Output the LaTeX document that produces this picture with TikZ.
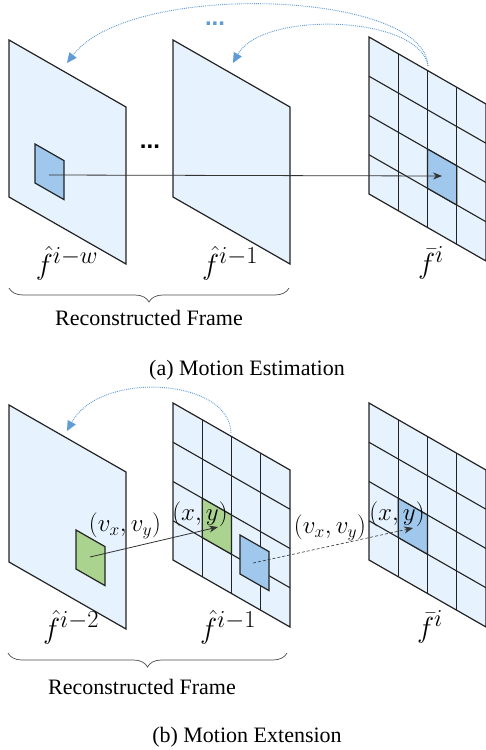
\RequirePackage{fix-cm}
\documentclass[tikz,border=0pt]{standalone}
\usepackage{fontspec}
\usepackage{graphicx}
\setmainfont{Liberation Serif}
\newfontfamily\dotfont{Liberation Sans}
\usetikzlibrary{arrows.meta,decorations.pathreplacing}
\definecolor{ffill}{RGB}{230,242,253}
\definecolor{hblue}{RGB}{160,199,236}
\definecolor{hgreen}{RGB}{169,211,142}
\definecolor{arcblue}{RGB}{95,155,213}
\definecolor{edge}{RGB}{35,35,35}
\newcommand\plainframe[2]{\draw[frm] (#1,#2) -- ++(117,67) -- ++(0,157) -- ++(-117,-67) -- cycle;}
\newcommand\gridframe[2]{\plainframe{#1}{#2}
  \foreach \k in {1,2,3} {
    \draw[gridl] (#1+\k*29.25, #2+\k*16.75) -- ++(0,157);
    \draw[gridl] (#1, #2+\k*39.25) -- ++(117,67);}}
\newcommand\cellfill[5]{\draw[cellst, fill=#5] (#1+#3*29.25, #2+#3*16.75+#4*39.25) -- ++(29.25,16.75) -- ++(0,39.25) -- ++(-29.25,-16.75) -- cycle;}
\newcommand\blockfill[3]{\draw[cellst, fill=#3] (#1,#2) -- ++(29,16.6) -- ++(0,39) -- ++(-29,-16.6) -- cycle;}
\newcommand\bigsup[1]{\scalebox{1.2}{$\scriptstyle #1$}}
\begin{document}
\begin{tikzpicture}[x=1pt,y=-1pt,
  frm/.style={draw=edge, fill=ffill, line width=1.2pt, line join=miter},
  gridl/.style={draw=edge, line width=1.1pt},
  cellst/.style={draw=edge, line width=1.2pt},
  mv/.style={draw=black!80, line width=0.8pt, -{Stealth[length=9pt,width=7pt]}},
  mvd/.style={mv, densely dashed, line width=0.6pt},
  arcst/.style={draw=arcblue, densely dotted, line width=0.9pt, -{Triangle[length=10pt,width=9pt]}},
  mlab/.style={font=\fontsize{29}{34}\selectfont, inner sep=0pt},
  vlab/.style={font=\fontsize{25}{28}\selectfont, inner sep=0pt},
  txt/.style={font=\fontsize{22}{24}\selectfont, inner sep=0pt},
  dotst/.style={font=\dotfont\bfseries\fontsize{24}{24}\selectfont, inner sep=0pt},
  bracest/.style={draw=black!70, line width=0.7pt, decorate, decoration={brace, amplitude=14pt, mirror}}]
\useasboundingbox (0,0) rectangle (485,750);

% ---------- (a) Motion Estimation ----------
\plainframe{9}{40}
\plainframe{173}{40}
\gridframe{369}{37}
\cellfill{369}{37}{2}{2}{hblue}
\blockfill{35}{144}{hblue}

\coordinate (a1) at (49,175);
\coordinate (a2) at (442,176);
\draw[mv] (a1) -- (a2);

\node[dotst] (dots1) at (150,147) {...};
\node[dotst, text=arcblue] (dots2) at (215,24) {...};

\coordinate (s1) at (428,66);
\coordinate (t1) at (67,63);
\coordinate (t2) at (233,63);
\draw[arcst] (s1) .. controls (425,-10) and (130,-20) .. (t1);
\draw[arcst] (s1) .. controls (420,15) and (262,10) .. (t2);

\node[mlab] (la1) at (67,263) {$\hat{f}^{\bigsup{i-w}}$};
\node[mlab] (la2) at (230,263) {$\hat{f}^{\bigsup{i-1}}$};
\node[mlab] (la3) at (431,263) {$\bar{f}^{\bigsup{i}}$};

\coordinate (bra) at (9,288);
\coordinate (brb) at (289,288);
\draw[bracest] (bra) -- (brb);
\node[txt] (rf1) at (149,318) {Reconstructed Frame};
\node[txt] (capa) at (247,370) {(a) Motion Estimation};

% ---------- (b) Motion Extension ----------
\plainframe{9}{405}
\gridframe{173}{403}
\gridframe{369}{403}
\blockfill{76}{530}{hgreen}
\cellfill{173}{403}{1}{2}{hgreen}
\blockfill{240}{535}{hblue}
\cellfill{369}{403}{1}{2}{hblue}

\coordinate (b1) at (90,557);
\coordinate (b2) at (218,527);
\draw[mv] (b1) -- (b2);
\coordinate (c1) at (253,563);
\coordinate (c2) at (413,528);
\draw[mvd] (c1) -- (c2);

\node[vlab] (v1) at (125,526) {$\left(v_x,v_y\right)$};
\node[vlab] (x1) at (200,514) {$\left(x,y\right)$};
\node[vlab] (v2) at (330,528) {$\left(v_x,v_y\right)$};
\node[vlab] (x2) at (397,514) {$\left(x,y\right)$};

\coordinate (s3) at (231,433);
\coordinate (t3) at (67,431);
\draw[arcst] (s3) .. controls (230,378) and (100,370) .. (t3);

\node[mlab] (lb1) at (71,627) {$\hat{f}^{\bigsup{i-2}}$};
\node[mlab] (lb2) at (228,627) {$\hat{f}^{\bigsup{i-1}}$};
\node[mlab] (lb3) at (430,627) {$\bar{f}^{\bigsup{i}}$};

\coordinate (brc) at (8,653);
\coordinate (brd) at (287,653);
\draw[bracest] (brc) -- (brd);
\node[txt] (rf2) at (142,687) {Reconstructed Frame};
\node[txt] (capb) at (247,737) {(b) Motion Extension};
\end{tikzpicture}
\end{document}
